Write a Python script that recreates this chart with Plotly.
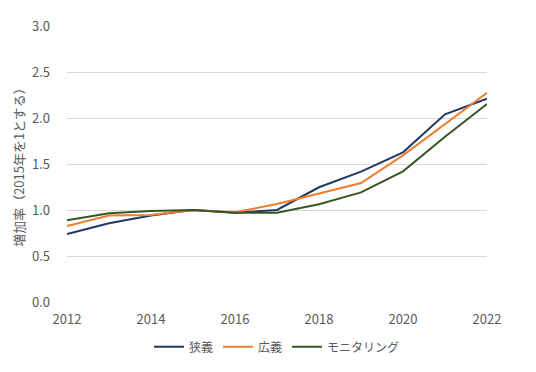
import plotly.graph_objects as go

years = [2012, 2013, 2014, 2015, 2016, 2017, 2018, 2019, 2020, 2021, 2022]
narrow = [0.74, 0.855, 0.94, 1.0, 0.97, 1.0, 1.247, 1.417, 1.627, 2.04, 2.21]
broad = [0.826, 0.94, 0.945, 1.0, 0.975, 1.065, 1.18, 1.293, 1.594, 1.935, 2.275]
monitoring = [0.888, 0.964, 0.99, 1.0, 0.97, 0.97, 1.062, 1.192, 1.42, 1.797, 2.152]
series_names = ["狭義", "広義", "モニタリング"]
colors = ["#203864", "#ED7D31", "#375623"]

font_family = "Noto Sans CJK JP"
fig = go.Figure()
for name, vals, c in zip(series_names, [narrow, broad, monitoring], colors):
    fig.add_trace(go.Scatter(x=years, y=vals, name=name, mode="lines",
                             line=dict(color=c, width=2)))

fig.update_layout(
    width=528, height=364,
    margin=dict(l=59, r=49, t=18, b=70, autoexpand=False),
    paper_bgcolor="white", plot_bgcolor="white",
    font=dict(family=font_family, color="#595959", size=13),
    showlegend=True,
    legend=dict(orientation="h", x=0.5, xanchor="center", y=-0.11, yanchor="top",
                font=dict(size=12, color="#595959"), itemwidth=30, tracegroupgap=0),
    xaxis=dict(range=[2012, 2022], tickvals=[2012, 2014, 2016, 2018, 2020, 2022],
               showgrid=False, zeroline=False, showline=False, ticks="",
               ticklabelstandoff=8, automargin=False,
               tickfont=dict(size=13, color="#595959")),
    yaxis=dict(range=[0, 3.0], dtick=0.5, tickformat=".1f",
               showgrid=True, gridcolor="#D9D9D9", gridwidth=1, zeroline=False,
               showline=False, ticks="", ticklabelstandoff=16, automargin=False,
               tickfont=dict(size=13, color="#595959"),
               title=dict(text="増加率（2015年を1とする）", font=dict(size=13, color="#595959"), standoff=4)),
)
fig.write_html("out.html")
